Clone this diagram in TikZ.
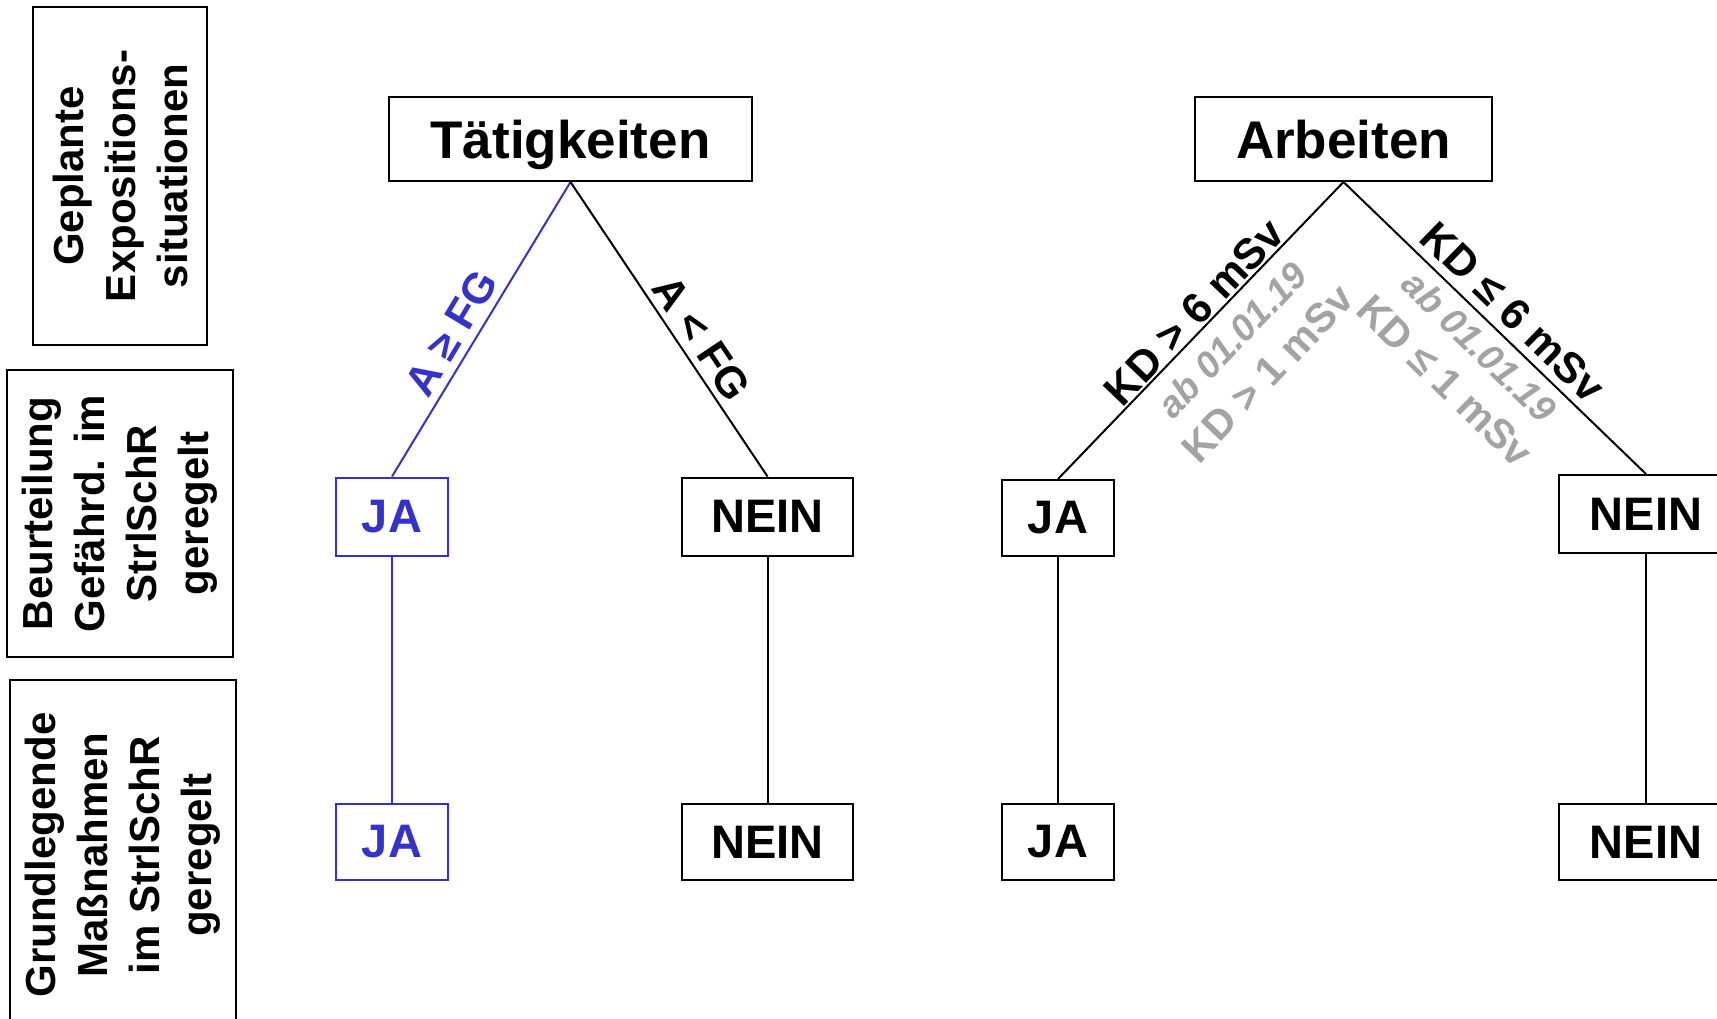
\documentclass[tikz,border=0pt]{standalone}
\usepackage{fontspec}
\setmainfont{Liberation Sans}
\definecolor{jablue}{HTML}{3333CC}
\definecolor{later}{HTML}{A3A3A3}
\begin{document}
\begin{tikzpicture}[x=1pt,y=-1pt,
  box/.style={draw, line width=2pt, inner sep=0pt, align=center},
  big/.style={box, text height=45pt, text depth=5pt, font=\bfseries\fontsize{53}{60}\selectfont},
  answer/.style={box, font=\bfseries\fontsize{47}{56}\selectfont},
  side/.style={box, rotate=90, font=\bfseries\fontsize{42}{52}\selectfont},
  wire/.style={line width=2pt},
  cond/.style={font=\bfseries\fontsize{43}{50}\selectfont, inner sep=0pt},
  note/.style={font=\bfseries\fontsize{41}{50}\selectfont, text=later, inner sep=0pt, align=center}]
\useasboundingbox (0,0) rectangle (1717,1019);
\clip (0,0) rectangle (1717,1019);
\fill[white] (0,0) rectangle (1717,1019);

% row headings on the left
\node[side, minimum width=338, minimum height=174] (h1) at (120,176)
  {Geplante\\Expositions-\\situationen};
\node[side, minimum width=287, minimum height=226] (h2) at (120,513.5)
  {Beurteilung\\Gefährd. im\\StrlSchR\\geregelt};
\node[side, minimum width=350, minimum height=226] (h3) at (123,855)
  {Grundlegende\\Maßnahmen\\im StrlSchR\\geregelt};

% the two top categories
\node[big, minimum width=363, minimum height=84] (t) at (570.5,139) {Tätigkeiten};
\node[big, minimum width=297, minimum height=84] (a) at (1343.5,139) {Arbeiten};

% second row
\node[answer, draw=jablue, text=jablue, minimum width=112, minimum height=78] (tj1) at (392,516.5) {JA};
\node[answer, minimum width=171, minimum height=78] (tn1) at (767.5,516.5) {NEIN};
\node[answer, minimum width=112, minimum height=76] (aj1) at (1058,518) {JA};
\node[answer, minimum width=174, minimum height=78] (an1) at (1646,514) {NEIN};

% third row
\node[answer, draw=jablue, text=jablue, minimum width=112, minimum height=76] (tj2) at (392,842) {JA};
\node[answer, minimum width=171, minimum height=76] (tn2) at (767.5,842) {NEIN};
\node[answer, minimum width=112, minimum height=76] (aj2) at (1058,842) {JA};
\node[answer, minimum width=174, minimum height=76] (an2) at (1646,842) {NEIN};

% connectors
\draw[wire, jablue] (t.south) -- (tj1.north);
\draw[wire] (t.south) -- (tn1.north);
\draw[wire] (a.south) -- (aj1.north);
\draw[wire] (a.south) -- (an1.north);
\draw[wire, jablue] (tj1.south) -- (tj2.north);
\draw[wire] (tn1.south) -- (tn2.north);
\draw[wire] (aj1.south) -- (aj2.north);
\draw[wire] (an1.south) -- (an2.north);

% branch conditions
\node[cond, text=jablue, rotate=59.1] (c1) at (451,333) {A ≥ FG};
\node[cond, rotate=-56.3] (c2) at (702,338) {A < FG};
\node[cond, rotate=46.3] (c3) at (1194,312) {KD > 6 mSv};
\node[cond, rotate=-44.2] (c4) at (1513,312) {KD ≤ 6 mSv};
\node[note, rotate=46.3] (n1) at (1250,357)
  {{\itshape\fontsize{37}{50}\selectfont ab 01.01.19}\\KD > 1 mSv};
\node[note, rotate=-44.2] (n2) at (1462,364)
  {{\itshape\fontsize{37}{50}\selectfont ab 01.01.19}\\KD ≤ 1 mSv};
\end{tikzpicture}
\end{document}
